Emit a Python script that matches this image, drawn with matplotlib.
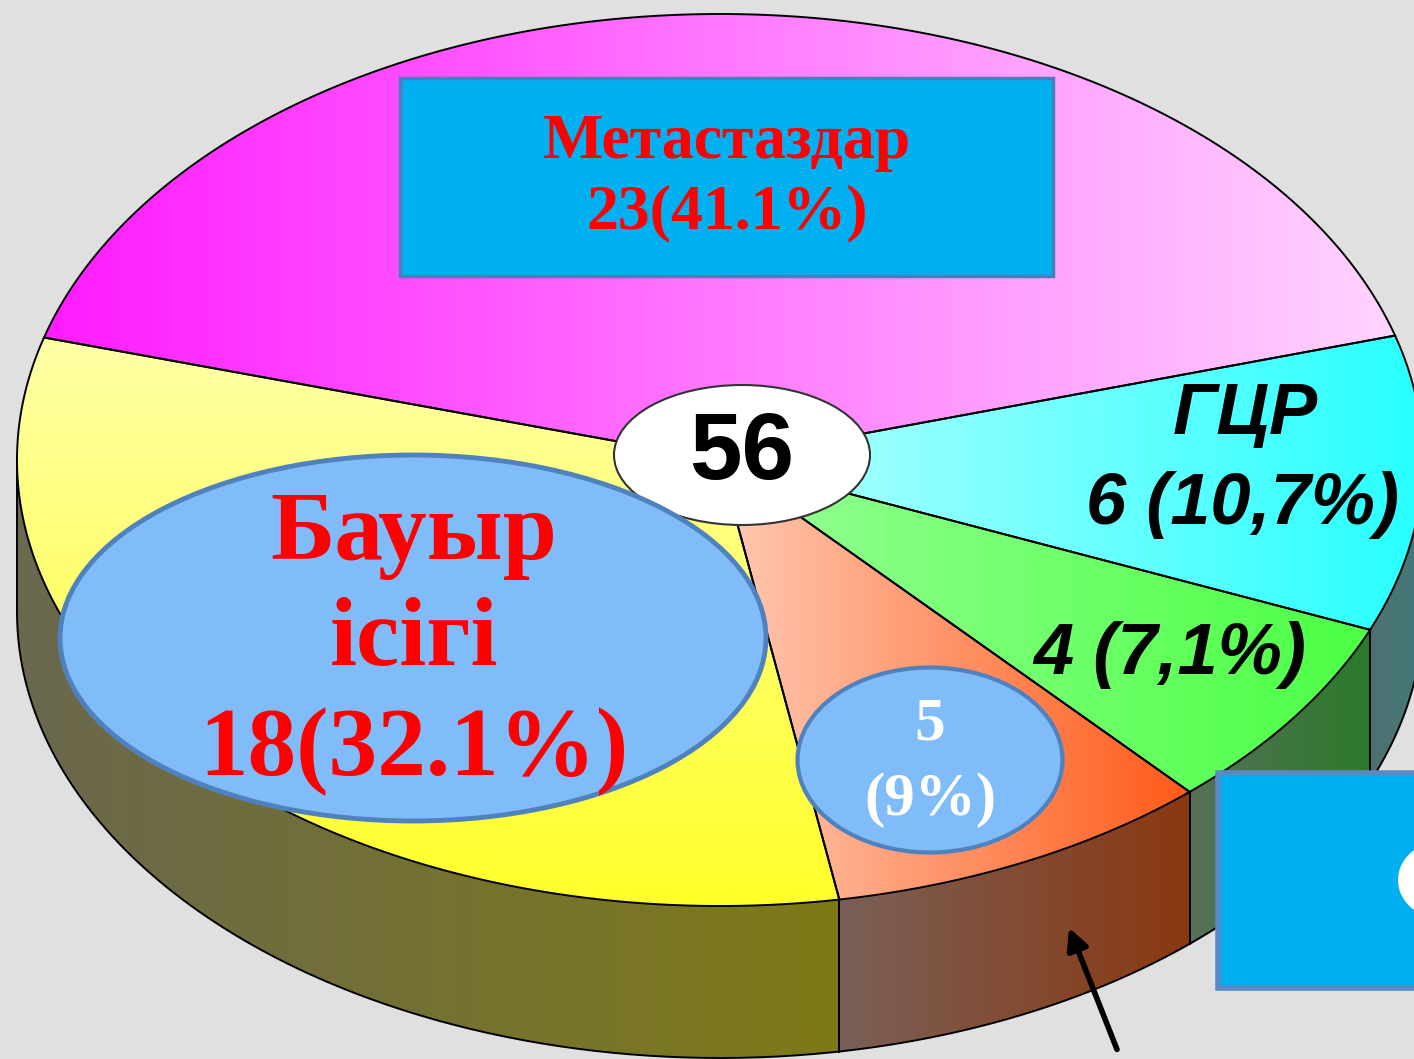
import numpy as np
import matplotlib
matplotlib.use('Agg')
import matplotlib.pyplot as plt
from matplotlib.patches import Polygon, Ellipse, Rectangle
from matplotlib.colors import LinearSegmentedColormap

# slice data (counter-clockwise from the right-hand edge of the magenta slice)
labels = ['Метастаздар', 'Бауыр ісігі', '5', '4', 'ГЦР']
counts = [23, 18, 5, 4, 6]
total = sum(counts)

# top-face gradients (start colour, end colour, vertical?)
top_colors = [('#ff1cff', '#ffd4ff', False),
              ('#ffffa6', '#ffff2a', True),
              ('#ffcab4', '#ff5a18', False),
              ('#96ff96', '#4cff44', False),
              ('#b8ffff', '#28ffff', False)]
side_colors = [('#606060', '#606060'),
               ('#6a684e', '#7e7a18'),
               ('#7a6058', '#8a3810'),
               ('#587058', '#2a7a2a'),
               ('#507070', '#427a7a')]

W, H = 1414, 1059
cx, cy, rx, ry, depth = 720, 460, 703, 446, 152
start = 16.2

fig = plt.figure(figsize=(W / 100, H / 100), dpi=100)
fig.patch.set_facecolor('#e0e0e0')
ax = fig.add_axes([0, 0, 1, 1])
ax.set_facecolor('#e0e0e0')


def arc(a0, a1, dy=0, n=200):
    t = np.radians(np.linspace(a0, a1, n))
    return np.column_stack([cx + rx * np.cos(t), cy - ry * np.sin(t) + dy])


def grad_fill(poly, c0, c1, vertical=False, z=1):
    patch = Polygon(poly, closed=True, facecolor='none', edgecolor='none', zorder=z)
    ax.add_patch(patch)
    g = np.linspace(0, 1, 256)
    arr = g[:, None] if vertical else g[None, :]
    cmap = LinearSegmentedColormap.from_list('g', [c0, c1])
    im = ax.imshow(arr, cmap=cmap, aspect='auto', zorder=z, interpolation='bilinear',
                   extent=(poly[:, 0].min(), poly[:, 0].max(), poly[:, 1].max(), poly[:, 1].min()))
    im.set_clip_path(patch)


bounds = start + 360 * np.concatenate([[0], np.cumsum(counts)]) / total

# side walls (front half only)
for i in range(len(counts)):
    lo, hi = max(bounds[i], 180), min(bounds[i + 1], 360)
    if lo >= hi:
        continue
    poly = np.vstack([arc(lo, hi), arc(hi, lo, depth)])
    grad_fill(poly, *side_colors[i], z=1)
    ax.plot(*arc(lo, hi, depth).T, color='black', lw=1.4, zorder=2)
    for a in (lo, hi):
        p = arc(a, a, n=1)[0]
        if 180 < a < 360:
            ax.plot([p[0], p[0]], [p[1], p[1] + depth], color='black', lw=1.4, zorder=2)
ax.plot([cx - rx, cx - rx], [cy, cy + depth], color='black', lw=1.4, zorder=2)

# top faces
for i in range(len(counts)):
    poly = np.vstack([[cx, cy], arc(bounds[i], bounds[i + 1])])
    c0, c1, vert = top_colors[i]
    grad_fill(poly, c0, c1, vert, z=3)
    ax.add_patch(Polygon(poly, closed=True, facecolor='none', edgecolor='black', lw=1.4, zorder=4))

# overlays
ax.add_patch(Rectangle((400, 78), 653, 198, facecolor='#00b0f0', edgecolor='#4a7ebb', lw=2.5, zorder=6))
ax.text(727, 143, 'Метастаздар', ha='center', va='center', color='#ff0000', fontsize=46,
        family='Liberation Serif', weight='bold', zorder=7)
ax.text(727, 213, '23(41.1%)', ha='center', va='center', color='#ff0000', fontsize=46,
        family='Liberation Serif', weight='bold', zorder=7)

ax.add_patch(Ellipse((742, 455), 256, 140, facecolor='white', edgecolor='#333333', lw=1.5, zorder=6))
ax.text(742, 455, str(total), ha='center', va='center', color='black', fontsize=68,
        family='Liberation Sans', weight='bold', zorder=7)

ax.add_patch(Ellipse((413, 638), 706, 366, facecolor='#80bbfa', edgecolor='#4f81bd', lw=3.5, zorder=6))
for y, s in zip([535, 642, 752], ['Бауыр', 'ісігі', '18(32.1%)']):
    ax.text(414, y, s, ha='center', va='center', color='#ff0000', fontsize=70,
            family='Liberation Serif', weight='bold', zorder=8)

ax.add_patch(Ellipse((930, 760), 265, 185, facecolor='#80bbfa', edgecolor='#4f81bd', lw=3, zorder=6))
ax.text(930, 725, '5', ha='center', va='center', color='white', fontsize=44,
        family='Liberation Serif', weight='bold', zorder=7)
ax.text(930, 800, '(9%)', ha='center', va='center', color='white', fontsize=44,
        family='Liberation Serif', weight='bold', zorder=7)

ax.text(1245, 415, 'ГЦР', ha='center', va='center', color='black', fontsize=52,
        family='Liberation Sans', weight='bold', style='italic', zorder=7)
ax.text(1242, 505, '6 (10,7%)', ha='center', va='center', color='black', fontsize=52,
        family='Liberation Sans', weight='bold', style='italic', zorder=7)
ax.text(1170, 655, '4 (7,1%)', ha='center', va='center', color='black', fontsize=52,
        family='Liberation Sans', weight='bold', style='italic', zorder=7)

ax.add_patch(Rectangle((1218, 773), 240, 215, facecolor='#00b0f0', edgecolor='#5a8ac6', lw=4, zorder=6))
ax.add_patch(Ellipse((1440, 880), 84, 76, facecolor='white', edgecolor='none', zorder=7))

ax.annotate('', xy=(1068, 925), xytext=(1118, 1052),
            arrowprops=dict(arrowstyle='-|>', lw=4, color='black', mutation_scale=32), zorder=7)

ax.set_xlim(0, W)
ax.set_ylim(H, 0)
ax.axis('off')
fig.savefig('out.png', dpi=100, facecolor=fig.get_facecolor())
